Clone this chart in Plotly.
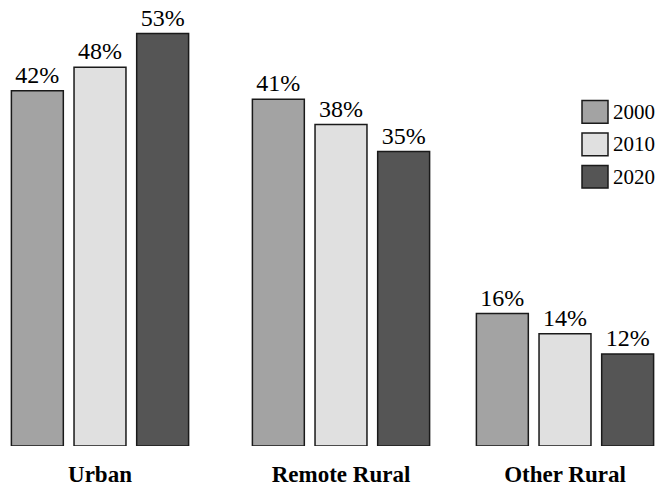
import plotly.graph_objects as go

# ---- data ----
categories = ["Urban", "Remote Rural", "Other Rural"]
group_pos = [1.00, 3.41, 5.65]          # group centres along the x axis (as laid out in the picture)
years = ["2000", "2010", "2020"]
bar_values = {                            # bar heights as drawn (percent scale)
    "2000": [42.1, 41.1, 15.7],
    "2010": [44.9, 38.1, 13.3],
    "2020": [48.9, 34.9, 10.9],
}
bar_labels = {                            # printed value labels
    "2000": ["42%", "41%", "16%"],
    "2010": ["48%", "38%", "14%"],
    "2020": ["53%", "35%", "12%"],
}
colors = {"2000": "#a3a3a3", "2010": "#e0e0e0", "2020": "#555555"}

FONT = "Liberation Serif"
W, H = 663, 487
M_T, M_B = 7, 34

fig = go.Figure()
for yr in years:
    fig.add_trace(go.Bar(
        x=group_pos, y=bar_values[yr], name=yr,
        marker=dict(color=colors[yr], line=dict(color="#1a1a1a", width=1.5)),
        text=bar_labels[yr], textposition="outside", cliponaxis=False,
        textfont=dict(family=FONT, size=24, color="black"),
        showlegend=False,
    ))

# custom legend (large swatches)
plot_h = H - M_T - M_B
def py(pix):                 # page pixel y -> paper y
    return (H - M_B - pix) / plot_h
def px(pix):                 # page pixel x -> paper x
    return pix / W

shapes, annos = [], []
for i, yr in enumerate(years):
    top = 102 + i * 33
    shapes.append(dict(type="rect", xref="paper", yref="paper",
                       x0=px(582), x1=px(608), y0=py(top + 23), y1=py(top),
                       fillcolor=colors[yr], line=dict(color="#1a1a1a", width=1.5)))
    annos.append(dict(xref="paper", yref="paper", x=px(611), y=py(top + 11.5),
                      text=yr, showarrow=False, xanchor="left", yanchor="middle",
                      font=dict(family=FONT, size=21, color="black")))

fig.update_layout(
    width=W, height=H,
    font=dict(family=FONT, color="black"),
    margin=dict(l=0, r=0, t=M_T, b=M_B),
    paper_bgcolor="white", plot_bgcolor="white",
    barmode="group", bargap=0.161, bargroupgap=0.171,
    xaxis=dict(range=[0, 6.63], tickvals=group_pos,
               ticktext=[f"<b>{c}</b>" for c in categories],
               tickfont=dict(family=FONT, size=23, color="black"),
               ticklabelstandoff=12,
               showgrid=False, zeroline=False, showline=False, ticks="",
               fixedrange=True),
    yaxis=dict(range=[0, plot_h / 8.57], visible=False, showgrid=False, zeroline=False,
               fixedrange=True),
    shapes=shapes, annotations=annos,
)

fig.write_html("out.html", config={"displayModeBar": False, "staticPlot": True},
               post_script="document.body.style.margin='0';")
